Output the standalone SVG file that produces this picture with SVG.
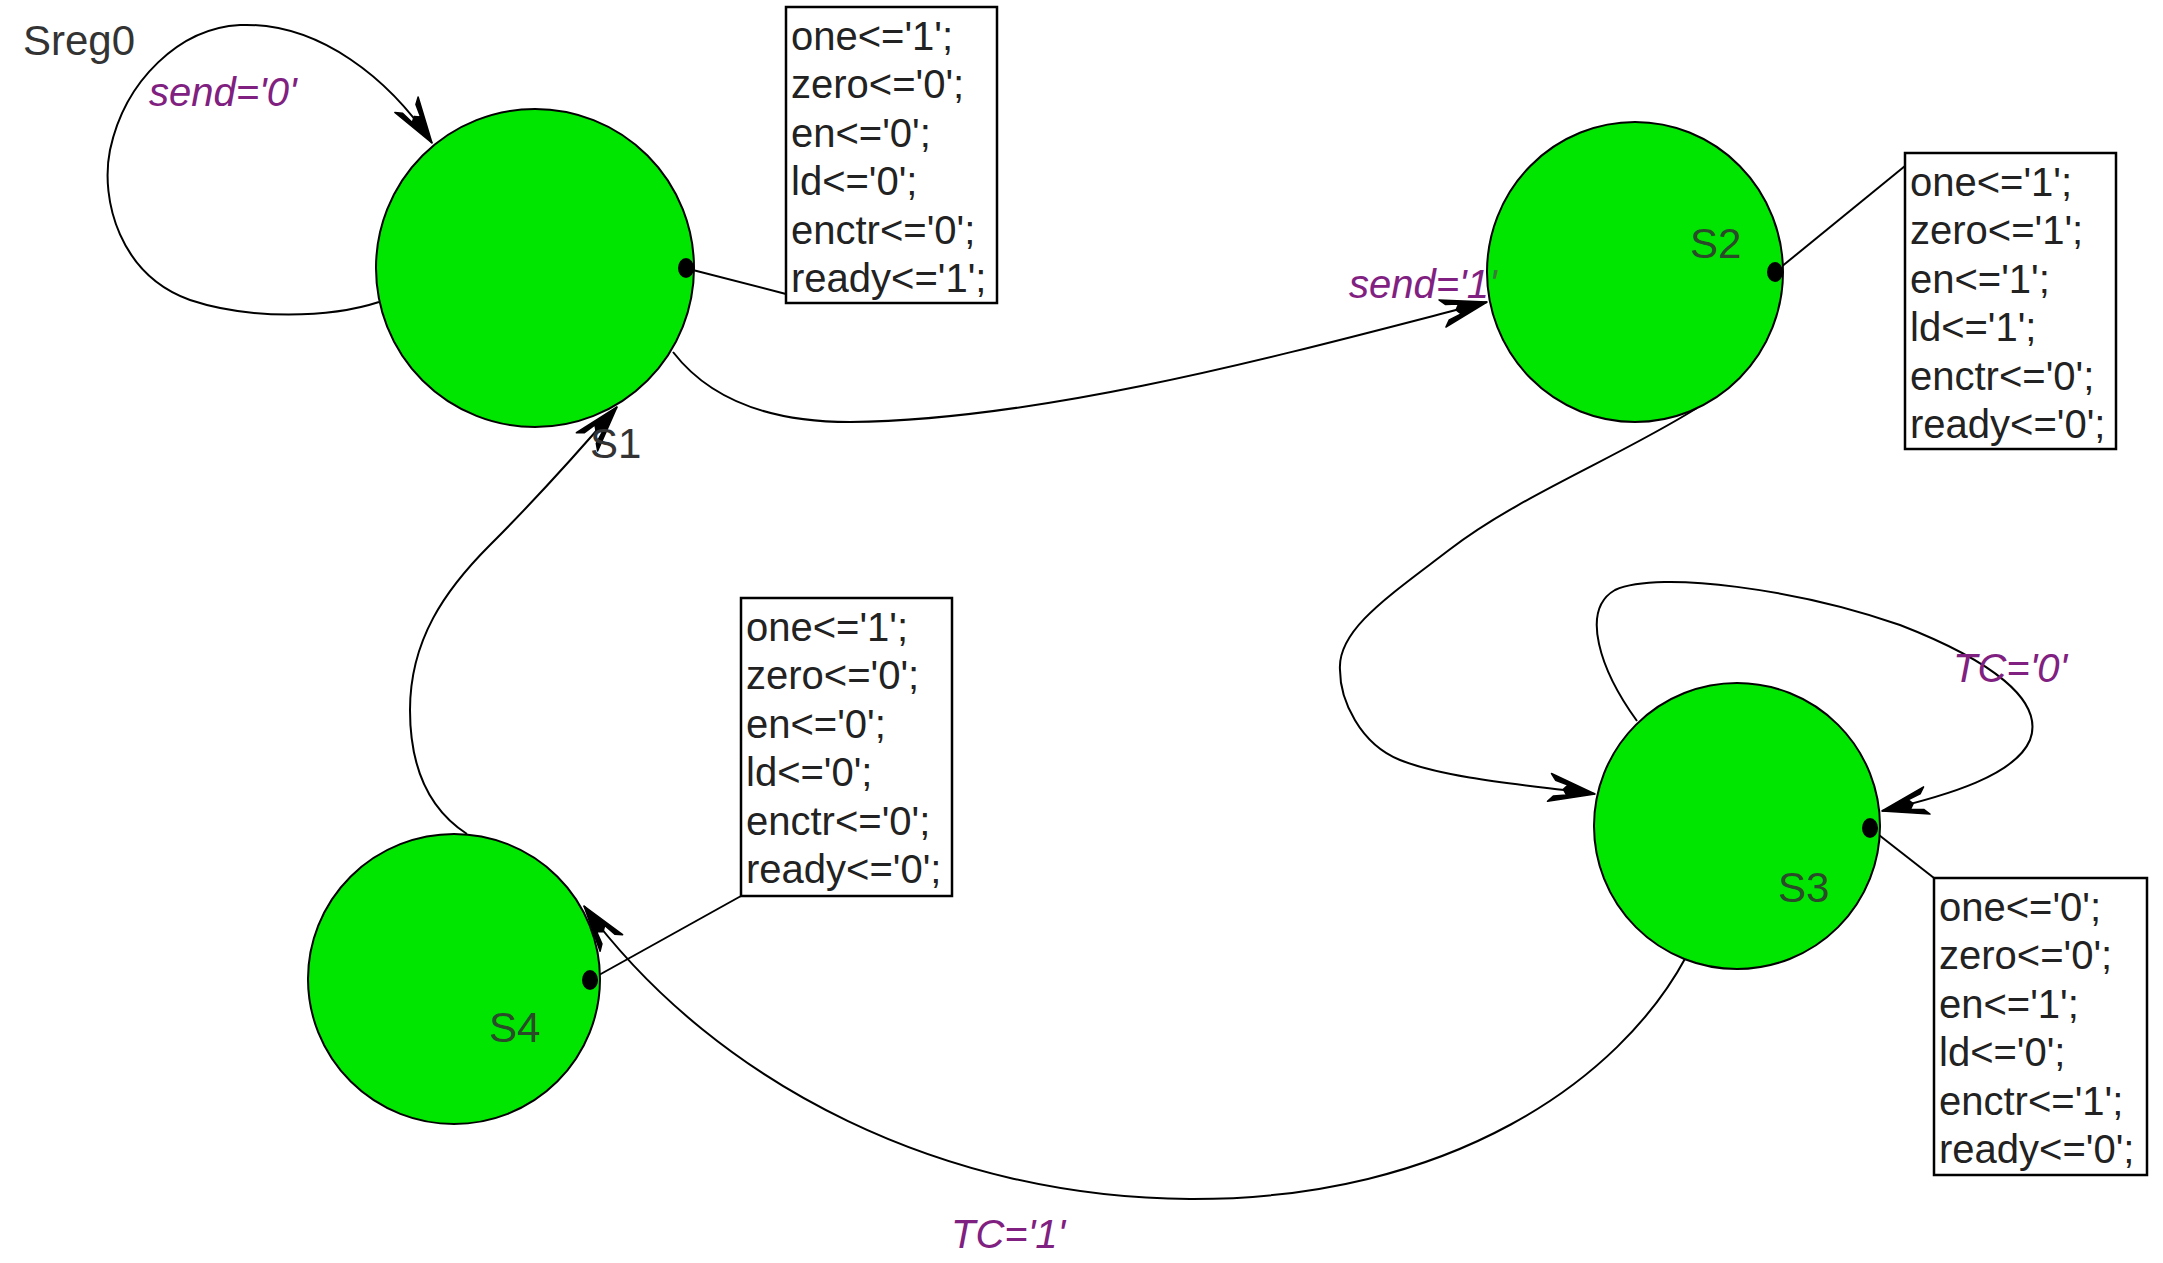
<svg xmlns="http://www.w3.org/2000/svg" width="2163" height="1263" viewBox="0 0 2163 1263">
<style>
.bg{fill:#ffffff}
.st{fill:#00e600;stroke:#000;stroke-width:2}
.dot{fill:#000}
.box{fill:#fff;stroke:#000;stroke-width:2.5}
.act{font-family:"Liberation Sans",Arial,sans-serif;font-size:40px;fill:#222}
.nm{font-family:"Liberation Sans",Arial,sans-serif;font-size:42px;fill:#2a4a2a}
.nm0{font-family:"Liberation Sans",Arial,sans-serif;font-size:42px;fill:#333}
.edge{fill:none;stroke:#000;stroke-width:2}
.link{fill:none;stroke:#000;stroke-width:2}
.cond{font-family:"Liberation Sans",Arial,sans-serif;font-size:40px;font-style:italic;fill:#802080}
</style>
<defs>
<marker id="arr" markerUnits="userSpaceOnUse" orient="auto" refX="0" refY="0" markerWidth="60" markerHeight="40" viewBox="-50 -20 60 40" overflow="visible">
<path d="M0,0 L-46,-14 L-41,-8 L-28,-5 L-32,0 L-28,5 L-41,8 L-46,14 Z" fill="#000" stroke="#000" stroke-width="1.5" stroke-linejoin="round"/>
</marker>
<linearGradient id="sendgrad" gradientUnits="userSpaceOnUse" x1="1340" y1="0" x2="1520" y2="0">
<stop offset="0.81" stop-color="#802080"/>
<stop offset="0.81" stop-color="#3a7a3a"/>
</linearGradient>
</defs>
<rect class="bg" x="0" y="0" width="2163" height="1263"/>
<g id="connectors">
<path class="edge" marker-end="url(#arr)" d="M379,302 C330,318 250,320 190,300 C120,275 100,200 110,150 C125,80 180,28 240,25 C320,22 390,80 432,143"/>
<path class="edge" marker-end="url(#arr)" d="M673,352 C710,400 770,422 850,422 C1050,420 1300,350 1487,302"/>
<path class="edge" marker-end="url(#arr)" d="M1697,408 C1617,458 1519,496 1449,550 C1389,596 1337,630 1340,670 C1340,700 1360,744 1400,760 C1450,780 1540,786 1595,794"/>
<path class="edge" marker-end="url(#arr)" d="M1637,721 C1600,670 1580,610 1615,590 C1660,570 1800,590 1900,625 C1990,660 2045,700 2030,740 C2015,775 1950,795 1882,811"/>
<path class="edge" marker-end="url(#arr)" d="M1686,957 C1620,1080 1450,1200 1190,1199 C950,1198 720,1090 584,906"/>
<path class="edge" marker-end="url(#arr)" d="M467,834 C430,810 410,770 410,710 C410,640 445,590 490,545 C530,505 580,450 617,407"/>
<line class="link" x1="685" y1="268" x2="786" y2="294"/>
<line class="link" x1="1775" y1="272" x2="1905" y2="166"/>
<line class="link" x1="1870" y1="828" x2="1934" y2="878"/>
<line class="link" x1="590" y1="980" x2="741" y2="896"/>
</g>
<g id="node-S1">
<ellipse class="st" cx="535" cy="268" rx="159" ry="159"/>
<ellipse class="dot" cx="686" cy="268" rx="8" ry="10"/>
<text class="nm0" x="590" y="458">S1</text>
<rect class="box" x="786" y="7" width="211" height="296"/>
<text class="act" x="791" y="50">one&lt;='1';</text>
<text class="act" x="791" y="98.4">zero&lt;='0';</text>
<text class="act" x="791" y="146.8">en&lt;='0';</text>
<text class="act" x="791" y="195.2">ld&lt;='0';</text>
<text class="act" x="791" y="243.6">enctr&lt;='0';</text>
<text class="act" x="791" y="292">ready&lt;='1';</text>
</g>
<g id="node-S2">
<ellipse class="st" cx="1635" cy="272" rx="148" ry="150"/>
<ellipse class="dot" cx="1775" cy="272" rx="8" ry="10"/>
<text class="nm" x="1690" y="258">S2</text>
<rect class="box" x="1905" y="153" width="211" height="296"/>
<text class="act" x="1910" y="196">one&lt;='1';</text>
<text class="act" x="1910" y="244.4">zero&lt;='1';</text>
<text class="act" x="1910" y="292.8">en&lt;='1';</text>
<text class="act" x="1910" y="341.2">ld&lt;='1';</text>
<text class="act" x="1910" y="389.6">enctr&lt;='0';</text>
<text class="act" x="1910" y="438">ready&lt;='0';</text>
</g>
<g id="node-S3">
<ellipse class="st" cx="1737" cy="826" rx="143" ry="143"/>
<ellipse class="dot" cx="1870" cy="828" rx="8" ry="10"/>
<text class="nm" x="1778" y="902">S3</text>
<rect class="box" x="1934" y="878" width="213" height="297"/>
<text class="act" x="1939" y="921">one&lt;='0';</text>
<text class="act" x="1939" y="969.4">zero&lt;='0';</text>
<text class="act" x="1939" y="1017.8">en&lt;='1';</text>
<text class="act" x="1939" y="1066.2">ld&lt;='0';</text>
<text class="act" x="1939" y="1114.6">enctr&lt;='1';</text>
<text class="act" x="1939" y="1163">ready&lt;='0';</text>
</g>
<g id="node-S4">
<ellipse class="st" cx="454" cy="979" rx="146" ry="145"/>
<ellipse class="dot" cx="590" cy="980" rx="8" ry="10"/>
<text class="nm" x="489" y="1042">S4</text>
<rect class="box" x="741" y="598" width="211" height="298"/>
<text class="act" x="746" y="641">one&lt;='1';</text>
<text class="act" x="746" y="689.4">zero&lt;='0';</text>
<text class="act" x="746" y="737.8">en&lt;='0';</text>
<text class="act" x="746" y="786.2">ld&lt;='0';</text>
<text class="act" x="746" y="834.6">enctr&lt;='0';</text>
<text class="act" x="746" y="883">ready&lt;='0';</text>
</g>
<g id="labels">
<text class="nm0" x="23" y="55">Sreg0</text>
<text class="cond" x="149" y="106">send='0'</text>
<text class="cond" x="1349" y="298" style="fill:url(#sendgrad)">send='1'</text>
<text class="cond" x="1953" y="682">TC='0'</text>
<text class="cond" x="951" y="1248">TC='1'</text>
</g>
</svg>
